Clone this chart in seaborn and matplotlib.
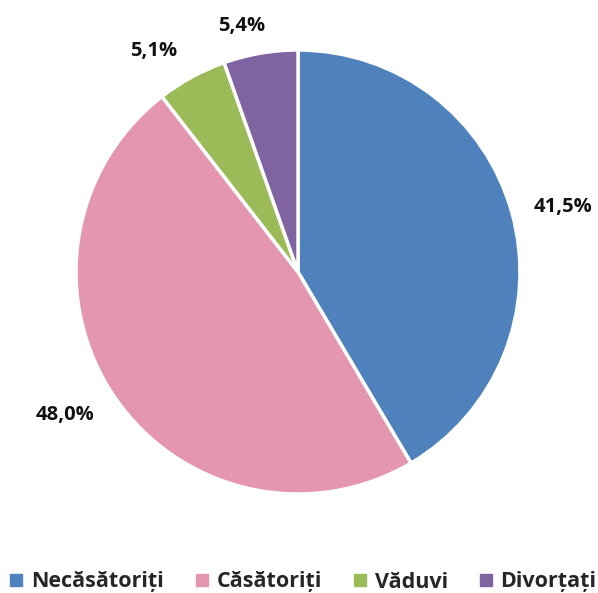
import numpy as np
import matplotlib
matplotlib.use("Agg")
import matplotlib.pyplot as plt
from matplotlib.lines import Line2D
import seaborn as sns

categories = ["Necăsătoriți", "Căsătoriți", "Văduvi", "Divorțați"]
shares = [41.5, 48.0, 5.1, 5.4]
labels = ["41,5%", "48,0%", "5,1%", "5,4%"]
colors = ["#4F81BD", "#E496AF", "#9BBB59", "#8064A2"]

sns.set_style("white")
plt.rcParams["font.family"] = ["Open Sans", "DejaVu Sans"]

fig = plt.figure(figsize=(5.98, 5.93), dpi=100)
ax = fig.add_axes([76 / 598, 99 / 593, 444 / 598, 444 / 593])

wedges, _ = ax.pie(shares, colors=colors, startangle=90, counterclock=False,
                   radius=1.0, wedgeprops=dict(edgecolor="white", linewidth=2.5))
ax.set_xlim(-1, 1)
ax.set_ylim(-1, 1)
ax.set_aspect("equal")
ax.axis("off")

# label placement: distance from centre and small angular shift (degrees)
dist = [1.227, 1.232, 1.189, 1.138]
shift = [-1.5, -2.7, 4.6, 3.1]
for w, lab, d, s in zip(wedges, labels, dist, shift):
    ang = np.deg2rad((w.theta1 + w.theta2) / 2 + s)
    ax.text(d * np.cos(ang), d * np.sin(ang), lab, ha="center", va="center",
            fontsize=14.5, fontweight="bold", color="#111111", clip_on=False)

handles = [Line2D([], [], marker="s", linestyle="none", markersize=8.5,
                  markerfacecolor=c, markeredgecolor=c) for c in colors]
fig.legend(handles, categories, loc="center", bbox_to_anchor=(0.505, 11 / 593),
           ncol=4, frameon=False, handletextpad=0.3, columnspacing=1.35,
           handlelength=0.8, prop=dict(size=15.5, weight="bold"))

fig.savefig("out.png", dpi=100, facecolor="white")
